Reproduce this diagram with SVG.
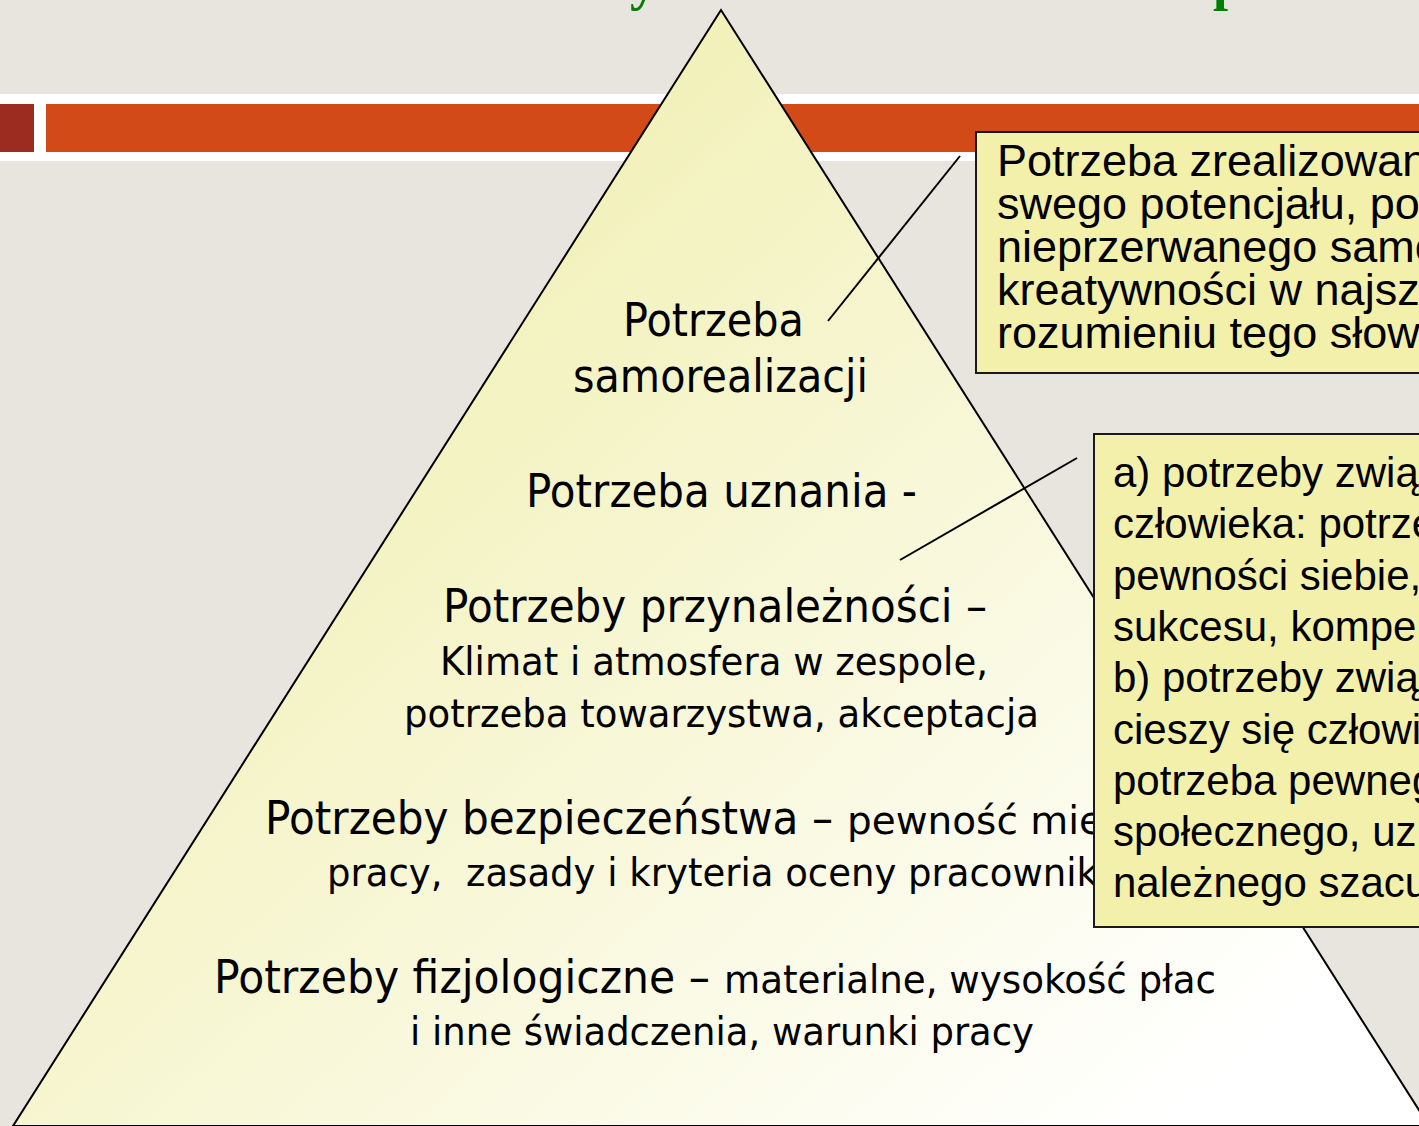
<svg xmlns="http://www.w3.org/2000/svg" width="1419" height="1126" viewBox="0 0 1419 1126">
<defs>
<linearGradient id="pyrGrad" gradientUnits="userSpaceOnUse" x1="450" y1="150" x2="1250" y2="1050">
<stop offset="0" stop-color="#f1f0b5"/>
<stop offset="1" stop-color="#ffffff"/>
</linearGradient>
<style>
.title{font-family:"Liberation Serif",serif;font-weight:bold;font-size:54px;fill:#008000}
.big{font-family:"DejaVu Sans","Noto Sans",sans-serif;font-size:46px;fill:#000}
.small{font-family:"DejaVu Sans","Noto Sans",sans-serif;font-size:39px;fill:#000}
.box{fill:#f2f0aa;stroke:#1a1a1a;stroke-width:2}
.b1{font-family:"Liberation Sans",Arial,sans-serif;font-size:45px;fill:#000}
.b2{font-family:"Liberation Sans",Arial,sans-serif;font-size:42px;fill:#000}
.conn{stroke:#000;stroke-width:2;fill:none}
</style>
</defs>
<rect x="0" y="0" width="1419" height="1126" fill="#e8e4de"/>
<g id="title">
<text class="title" x="630" y="-1">y</text>
<text class="title" x="1213" y="-1">p</text>
</g>
<g id="header">
<rect x="0" y="94" width="1419" height="67" fill="#ffffff"/>
<rect x="0" y="104" width="34" height="48" fill="#9b2c1f"/>
<rect x="46" y="104" width="1373" height="48" fill="#d24a17"/>
</g>
<g id="pyramid">
<polygon points="721,10 13,1126 1429,1126" fill="url(#pyrGrad)" stroke="#000" stroke-width="2"/>
<text class="big" x="623" y="336" textLength="181" lengthAdjust="spacingAndGlyphs">Potrzeba</text>
<text class="big" x="573" y="392" textLength="295" lengthAdjust="spacingAndGlyphs">samorealizacji</text>
<text class="big" x="526" y="507" textLength="391" lengthAdjust="spacingAndGlyphs">Potrzeba uznania -</text>
<text class="big" x="443" y="622" textLength="544" lengthAdjust="spacingAndGlyphs">Potrzeby przynależności –</text>
<text class="small" x="440" y="675" textLength="548" lengthAdjust="spacingAndGlyphs">Klimat i atmosfera w zespole,</text>
<text class="small" x="404" y="727" textLength="635" lengthAdjust="spacingAndGlyphs">potrzeba towarzystwa, akceptacja</text>
<text class="big" x="265" y="834" textLength="568" lengthAdjust="spacingAndGlyphs">Potrzeby bezpieczeństwa –</text>
<text class="small" x="847" y="834" textLength="256" lengthAdjust="spacingAndGlyphs">pewność mie</text>
<text class="small" x="327" y="886" textLength="771" lengthAdjust="spacingAndGlyphs" xml:space="preserve">pracy,  zasady i kryteria oceny pracownik</text>
<text class="big" x="214" y="993" textLength="496" lengthAdjust="spacingAndGlyphs">Potrzeby fizjologiczne –</text>
<text class="small" x="724" y="993" textLength="492" lengthAdjust="spacingAndGlyphs">materialne, wysokość płac</text>
<text class="small" x="410" y="1045" textLength="624" lengthAdjust="spacingAndGlyphs">i inne świadczenia, warunki pracy</text>
</g>
<g id="connectors">
<line class="conn" x1="828" y1="321" x2="960" y2="156"/>
<line class="conn" x1="900" y1="560" x2="1077" y2="458"/>
</g>
<g id="box-samorealizacja">
<rect class="box" x="976" y="132" width="460" height="241"/>
<text class="b1" x="997" y="176">Potrzeba zrealizowan</text>
<text class="b1" x="997" y="219">swego potencjału, po</text>
<text class="b1" x="997" y="262">nieprzerwanego samo</text>
<text class="b1" x="997" y="305">kreatywności w najsz</text>
<text class="b1" x="997" y="348">rozumieniu tego słow</text>
</g>
<g id="box-uznanie">
<rect class="box" x="1094" y="434" width="340" height="493"/>
<text class="b2" x="1113" y="487">a) potrzeby zwią</text>
<text class="b2" x="1113" y="538">człowieka: potrze</text>
<text class="b2" x="1113" y="590">pewności siebie,</text>
<text class="b2" x="1113" y="641">sukcesu, kompe</text>
<text class="b2" x="1113" y="692">b) potrzeby zwią</text>
<text class="b2" x="1113" y="744">cieszy się człowi</text>
<text class="b2" x="1113" y="795">potrzeba pewneg</text>
<text class="b2" x="1113" y="846">społecznego, uz</text>
<text class="b2" x="1113" y="897">należnego szacu</text>
</g>
</svg>
